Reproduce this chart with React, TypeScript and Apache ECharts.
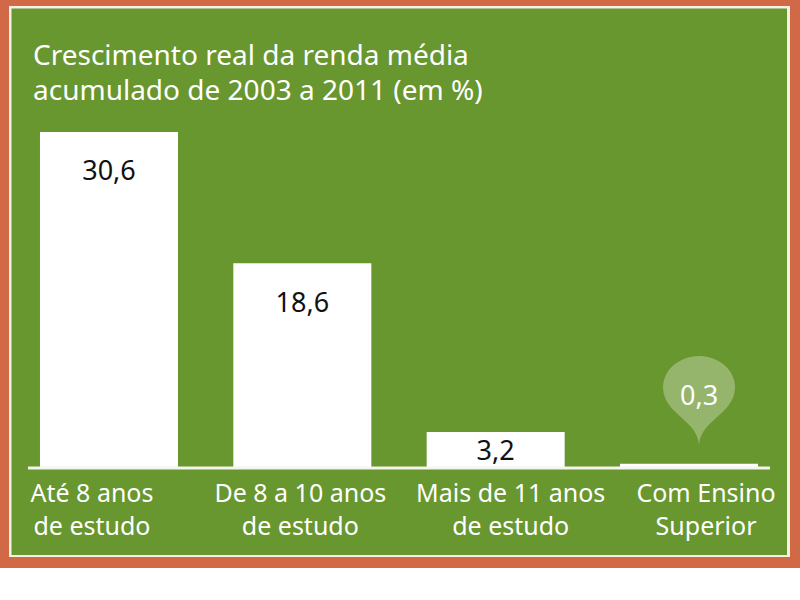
import React, { useEffect, useRef } from "react";
import * as echarts from "echarts";

const categories = [
  "Até 8 anos\nde estudo",
  "De 8 a 10 anos\nde estudo",
  "Mais de 11 anos\nde estudo",
  "Com Ensino\nSuperior",
];
const values = [30.6, 18.6, 3.2, 0.3];
const titleLines = ["Crescimento real da renda média", "acumulado de 2003 a 2011 (em %)"];

const FONT = "Noto Sans";
const GREEN = "#68962f";
const ORANGE = "#d26946";

const fmt = (v: number) => String(v).replace(".", ",");

export default function App() {
  const ref = useRef<HTMLDivElement>(null);
  useEffect(() => {
    document.body.style.margin = "0";
    const chart = echarts.init(ref.current!, null, { renderer: "svg" });
    const gridTop = 116.6;
    const gridBottom = 133;
    const baseY = 600 - gridBottom;
    const labelPad = [
      [0, 34, 0, 0],
      [0, 4, 0, 0],
      [0, 0, 0, 30],
      [0, 0, 0, 34],
    ];
    const rich: any = {};
    labelPad.forEach((p, i) => {
      rich["c" + i] = {
        color: "#ffffff",
        fontSize: 25,
        lineHeight: 33,
        fontFamily: FONT,
        padding: p,
      };
    });
    chart.setOption({
      animation: false,
      backgroundColor: "#ffffff",
      textStyle: { fontFamily: FONT },
      graphic: [
        { type: "rect", z: -10, shape: { x: 0, y: 0, width: 800, height: 568 }, style: { fill: ORANGE } },
        { type: "rect", z: -9, shape: { x: 9, y: 6, width: 781, height: 551 }, style: { fill: "#f4f1e6" } },
        { type: "rect", z: -8, shape: { x: 11.5, y: 8.5, width: 775.5, height: 546.5 }, style: { fill: GREEN } },
        {
          type: "line",
          z: 10,
          shape: { x1: 28, y1: baseY + 1, x2: 770, y2: baseY + 1 },
          style: { stroke: "#f4f6ee", lineWidth: 3 },
        },
      ],
      title: {
        text: titleLines.join("\n"),
        left: 33,
        top: 36,
        padding: 0,
        textStyle: {
          color: "#ffffff",
          fontSize: 28,
          lineHeight: 35,
          fontWeight: "normal",
          fontFamily: FONT,
        },
      },
      grid: { left: 12.3, right: 14.3, top: gridTop, bottom: gridBottom, containLabel: false },
      xAxis: {
        type: "category",
        data: categories,
        axisLine: { show: false },
        axisTick: { show: false },
        axisLabel: {
          interval: 0,
          margin: 8,
          verticalAlign: "top",
          formatter: (val: string, idx: number) =>
            val
              .split("\n")
              .map((l) => `{c${idx}|${l}}`)
              .join("\n"),
          rich,
        },
      },
      yAxis: {
        type: "value",
        min: 0,
        max: 32,
        show: false,
        splitLine: { show: false },
      },
      series: [
        {
          type: "bar",
          barWidth: 138,
          data: values.map((v, i) => ({
            value: v,
            label:
              i === 3
                ? { show: false }
                : {
                    show: true,
                    position: "insideTop",
                    distance: i === 2 ? 3 : 23,
                    formatter: fmt(v),
                    color: "#111111",
                    fontSize: 27,
                    lineHeight: 30,
                    fontFamily: FONT,
                  },
          })),
          itemStyle: { color: "#ffffff" },
          markPoint: {
            symbol: "pin",
            symbolSize: [120, 104],
            symbolOffset: [10, -17],
            itemStyle: { color: "rgba(255,255,255,0.3)" },
            label: {
              show: true,
              color: "#ffffff",
              fontSize: 27,
              fontFamily: FONT,
              formatter: fmt(values[3]),
              offset: [0, 2],
            },
            data: [{ coord: [3, values[3]], value: values[3] }],
          },
        },
      ],
    });
    return () => chart.dispose();
  }, []);
  return <div ref={ref} style={{ width: 800, height: 600 }} />;
}
